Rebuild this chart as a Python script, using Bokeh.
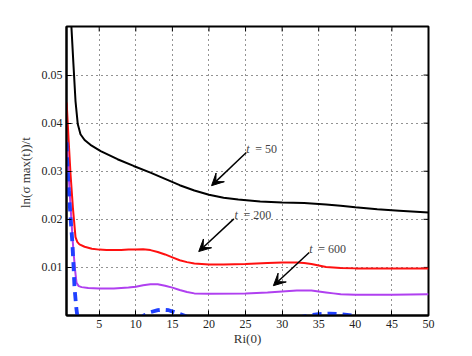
from bokeh.plotting import figure
from bokeh.models import Range1d, FixedTicker, Label, Arrow, VeeHead
from bokeh.embed import file_html
from bokeh.resources import INLINE

# ---- data ----
x_t50 = [1.15, 1.45, 1.76, 2.07, 2.44, 3.0, 3.8, 5.2, 7.5, 9.7, 12, 14, 16, 18, 20, 22, 24, 27, 30, 33, 36, 38, 40, 43, 46, 50]
y_t50 = [0.0615, 0.0530, 0.0446, 0.0398, 0.0377, 0.0365, 0.0355, 0.0342, 0.0325, 0.0311, 0.0297, 0.0284, 0.0271, 0.0260,
         0.0251, 0.0245, 0.0241, 0.0237, 0.0235, 0.0234, 0.0231, 0.0228, 0.0225, 0.0221, 0.0218, 0.0214]

x_t200 = [0.55, 0.8, 1.08, 1.4, 1.76, 2.0, 2.3, 3, 4, 5, 6, 7, 8, 9, 10, 11, 12, 13, 14, 15, 16, 17, 18, 19, 20, 22, 25,
          28, 30, 32, 33, 34, 35, 36, 38, 40, 45, 50]
y_t200 = [0.0443, 0.0370, 0.0294, 0.0225, 0.0163, 0.0153, 0.0148, 0.0143, 0.0139, 0.0137, 0.0136, 0.0136, 0.0136, 0.0137,
          0.0137, 0.0138, 0.0136, 0.0132, 0.0127, 0.0121, 0.0115, 0.0111, 0.0108, 0.0107, 0.0106, 0.0106, 0.0107, 0.0109,
          0.0110, 0.0110, 0.0109, 0.0107, 0.0104, 0.0101, 0.0099, 0.0098, 0.0098, 0.0098]

x_t600 = [0.55, 0.8, 1.1, 1.44, 1.7, 1.9, 2.2, 2.6, 3.5, 5, 7, 9, 10, 11, 12, 13, 14, 15, 16, 17, 18, 20, 25, 28, 30, 32,
          34, 35, 36, 37, 38, 40, 45, 50]
y_t600 = [0.0365, 0.0300, 0.0222, 0.0142, 0.0095, 0.0068, 0.0061, 0.0059, 0.0057, 0.0056, 0.0056, 0.0058, 0.0060, 0.0063,
          0.0065, 0.0065, 0.0062, 0.0058, 0.0053, 0.0049, 0.0046, 0.0045, 0.0046, 0.0048, 0.0050, 0.0052, 0.0052, 0.0050,
          0.0048, 0.0046, 0.0044, 0.0043, 0.0043, 0.0044]

x_blue = [0.55, 0.6, 0.85, 1.1, 1.31, 1.5, 1.62, 1.86, 2.0, 2.2, 3, 6, 9, 10.5, 11.1, 12, 13, 13.6, 14.5, 15.5, 16.6, 18,
          22, 28, 32, 33.5, 35, 36.5, 38, 39.6, 42, 46, 50]
y_blue = [0.0360, 0.0328, 0.0260, 0.0200, 0.0156, 0.0100, 0.0059, 0.0017, 0.0, -0.002, -0.004, -0.005, -0.003, -0.001,
          0.0, 0.0007, 0.0011, 0.0012, 0.0011, 0.0006, 0.0, -0.001, -0.002, -0.0015, -0.0005, 0.0, 0.0003, 0.0004,
          0.0003, 0.0, -0.001, -0.0015, -0.0015]

x_ticks = [5, 10, 15, 20, 25, 30, 35, 40, 45, 50]
y_ticks = [0.01, 0.02, 0.03, 0.04, 0.05]

# annotations: (label, text x, text y, arrow tail x, tail y, tip x, tip y)
notes = [
    ("50", 25.1, 0.0346, 25.1, 0.0339, 20.35, 0.0270),
    ("200", 23.5, 0.0210, 23.4, 0.0201, 18.6, 0.0133),
    ("600", 33.7, 0.0138, 33.7, 0.0131, 28.8, 0.0062),
]

SERIF = "Liberation Serif"
X0, X1, Y0, Y1 = 0.53, 50.0, 0.0, 0.0601
FW, FH = 362, 289

p = figure(width=472, height=356, output_backend="svg", toolbar_location=None,
           x_range=Range1d(X0, X1), y_range=Range1d(Y0, Y1),
           min_border_left=66, min_border_right=44, min_border_top=26, min_border_bottom=41)
p.background_fill_color = "white"
p.border_fill_color = "white"
p.outline_line_color = "black"
p.outline_line_width = 2

for ax, ticks in ((p.xaxis[0], x_ticks), (p.yaxis[0], y_ticks)):
    ax.ticker = FixedTicker(ticks=ticks)
    ax.major_tick_in = 5
    ax.major_tick_out = 0
    ax.minor_tick_line_color = None
    ax.axis_line_width = 2
    ax.major_tick_line_width = 1
    ax.major_label_text_font = SERIF
    ax.major_label_text_font_size = "12px"
    ax.major_label_text_color = "#222222"
    ax.axis_label_text_font = SERIF
    ax.axis_label_text_font_size = "13px"
    ax.axis_label_text_font_style = "normal"
    ax.axis_label_text_color = "#333333"

p.xaxis.axis_label = "Ri(0)"
p.xaxis.major_label_standoff = 4
p.xaxis.axis_label_standoff = 0
p.yaxis.axis_label = "ln(σ  max(t))/t"
p.yaxis.major_label_standoff = 4
p.yaxis.axis_label_standoff = 6

p.xgrid.ticker = FixedTicker(ticks=x_ticks)
p.ygrid.ticker = FixedTicker(ticks=y_ticks)
for g in (p.xgrid, p.ygrid):
    g.grid_line_color = "black"
    g.grid_line_dash = "1 4"
    g.grid_line_alpha = 0.85
    g.grid_line_width = 1

# inward tick marks on the top and right edges of the box (5 px long)
dy = 5 * (Y1 - Y0) / FH
dx = 5 * (X1 - X0) / FW
p.segment(x0=x_ticks, y0=[Y1] * len(x_ticks), x1=x_ticks, y1=[Y1 - dy] * len(x_ticks),
          line_color="black", line_width=1)
p.segment(x0=[X1] * len(y_ticks), y0=y_ticks, x1=[X1 - dx] * len(y_ticks), y1=y_ticks,
          line_color="black", line_width=1)

p.line(x_t50, y_t50, line_color="black", line_width=2)
p.line(x_t200, y_t200, line_color="#ff1010", line_width=2)
p.line(x_t600, y_t600, line_color="#b040f0", line_width=2)
p.line(x_blue, y_blue, line_color="#2040ff", line_width=3.8, line_dash="9 6")

for lab, tx, ty, ax0, ay0, ax1, ay1 in notes:
    p.add_layout(Label(x=tx, y=ty, text="t", text_font=SERIF, text_font_style="italic",
                       text_font_size="12px", text_color="#444444", text_baseline="middle"))
    p.add_layout(Label(x=tx, y=ty, x_offset=9, text="=  " + lab, text_font=SERIF,
                       text_font_size="12px", text_color="#444444", text_baseline="middle"))
    p.add_layout(Arrow(x_start=ax0, y_start=ay0, x_end=ax1, y_end=ay1, line_width=1.5,
                       line_color="black",
                       end=VeeHead(size=12, fill_color="black", line_color="black")))

open("out.html", "w").write(file_html(p, INLINE))
